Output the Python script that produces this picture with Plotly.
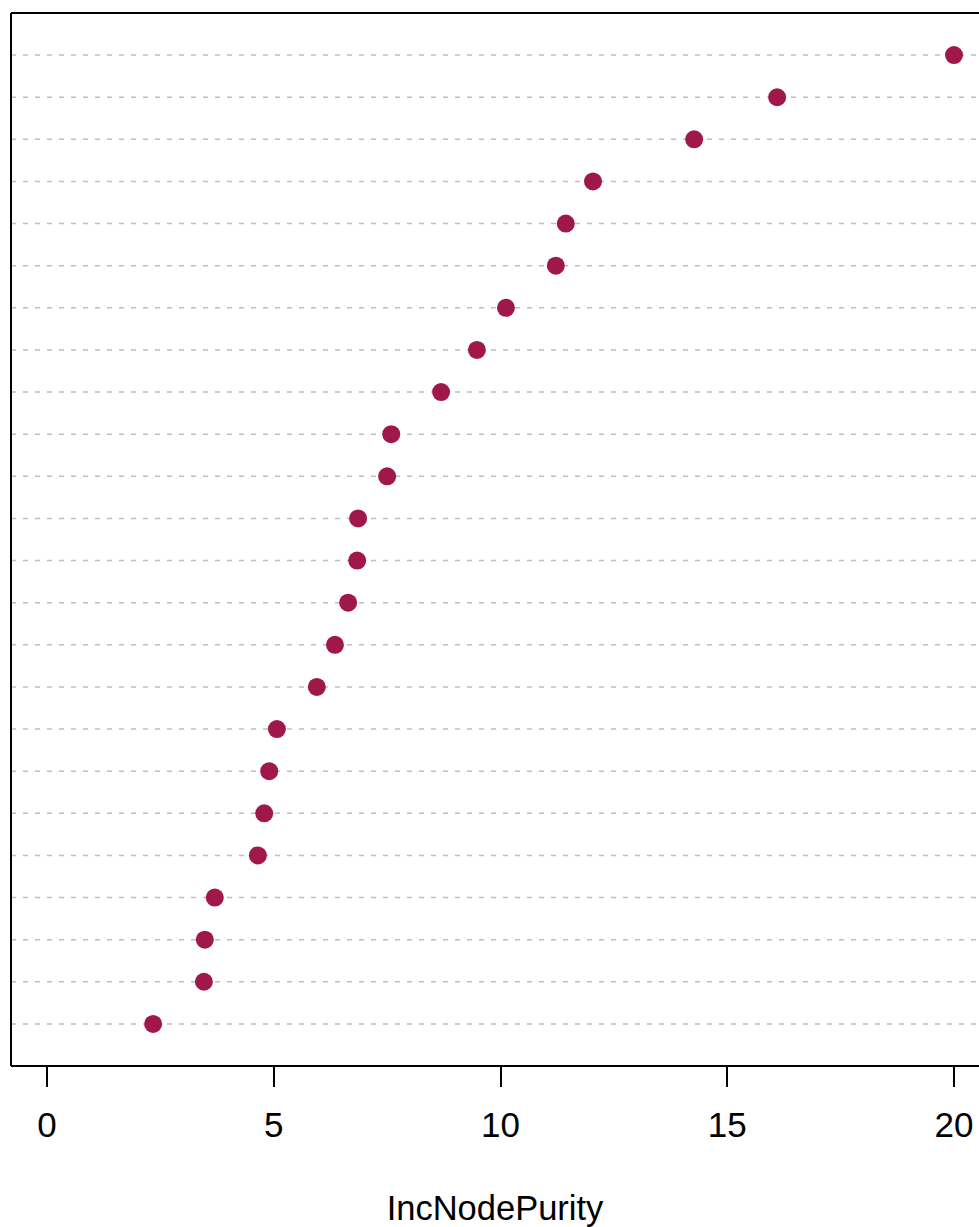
import plotly.graph_objects as go

# values ordered bottom (row 1) to top (row 24)
values = [2.34, 3.46, 3.48, 3.70, 4.65, 4.79, 4.90, 5.07, 5.95, 6.35, 6.64, 6.84,
          6.86, 7.50, 7.59, 8.69, 9.48, 10.12, 11.22, 11.44, 12.04, 14.27, 16.10, 20.00]
rows = list(range(1, len(values) + 1))
x_ticks = [0, 5, 10, 15, 20]
x_title = "IncNodePurity"

W, H = 979, 1227
fig = go.Figure()

# dotted guide lines per row
for r in rows:
    fig.add_shape(type="line", xref="paper", yref="y", x0=0, x1=1, y0=r, y1=r,
                  line=dict(color="#bebebe", width=1.5, dash="5px,7px"), layer="below")

fig.add_trace(go.Scatter(x=values, y=rows, mode="markers",
                         marker=dict(size=18, color="#A0184A", line=dict(width=0)),
                         hoverinfo="x"))

# box: left, top, bottom
for (x0, y0, x1, y1) in [(0, 0, 0, 1), (0, 1, 1, 1), (0, 0, 1, 0)]:
    fig.add_shape(type="line", xref="paper", yref="paper", x0=x0, y0=y0, x1=x1, y1=y1,
                  line=dict(color="black", width=2))

px_per_unit = (954 - 47) / 20.0
xmin = (11 - 47) / px_per_unit
xmax = (979 - 47) / px_per_unit

fig.update_layout(
    width=W, height=H,
    margin=dict(l=11, r=0, t=13, b=161),
    plot_bgcolor="white", paper_bgcolor="white",
    showlegend=False,
    font=dict(family="Liberation Sans, Arial, sans-serif", color="black"),
    xaxis=dict(range=[xmin, xmax], tickvals=x_ticks, ticktext=[str(t) for t in x_ticks],
               ticks="outside", ticklen=20, tickwidth=1.5, tickcolor="black",
               showgrid=False, zeroline=False, showline=False,
               tickfont=dict(size=35), ticklabelstandoff=8,
               title=dict(text=x_title, font=dict(size=34.5), standoff=53)),
    yaxis=dict(range=[0, 25], showticklabels=False, ticks="", showgrid=False,
               zeroline=False, showline=False),
)

fig.write_html("out.html",
               config={"displayModeBar": False},
               post_script="document.body.style.margin='0';"
                           "document.body.style.overflow='hidden';")
